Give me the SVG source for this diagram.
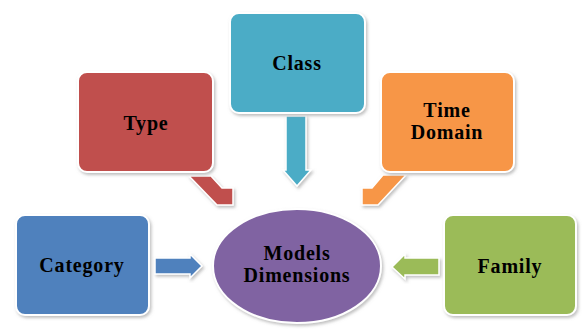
<svg xmlns="http://www.w3.org/2000/svg" width="587" height="333" viewBox="0 0 587 333">
  <defs>
    <filter id="soft" x="-10%" y="-10%" width="130%" height="130%">
      <feDropShadow dx="1.5" dy="2" stdDeviation="1.5" flood-color="#8c8c8c" flood-opacity="0.55"/>
    </filter>
  </defs>
  <style>
    .box { stroke: #ffffff; stroke-width: 2; filter: url(#soft); }
    .arrow { stroke: #ffffff; stroke-width: 1.5; stroke-linejoin: miter; filter: url(#soft); }
    .label { font-family: "Liberation Serif", "Times New Roman", serif; font-weight: bold; font-size: 20px; fill: #000000; text-anchor: middle; letter-spacing: 0.8px; }
  </style>
  <rect width="587" height="333" fill="#ffffff"/>

  <!-- connectors: block arrows pointing into the hub -->
  <g id="connectors">
    <polygon class="arrow" fill="#C0504D" points="189,176 211,176 222,188 233,188 233,205 217,205"/>
    <polygon class="arrow" fill="#4BACC6" points="286,116 306,116 306,170 311,170 297,186 283,170 286,170"/>
    <polygon class="arrow" fill="#F79646" points="383,175 406,175 378,205 362,205 362,188 372,188"/>
    <polygon class="arrow" fill="#4F81BD" points="155,258 190,258 190,254 202,266 190,278 190,274 155,274"/>
    <polygon class="arrow" fill="#9BBB59" points="439,258 405,258 405,254 392,267 405,279 405,275 439,275"/>
  </g>

  <g id="node-type">
    <rect class="box" x="78" y="72" width="135" height="100" rx="9" fill="#C0504D"/>
    <text class="label" x="146" y="130">Type</text>
  </g>

  <g id="node-class">
    <rect class="box" x="230" y="13" width="135" height="100" rx="9" fill="#4BACC6"/>
    <text class="label" x="297" y="70">Class</text>
  </g>

  <g id="node-time-domain">
    <rect class="box" x="381" y="72" width="133" height="100" rx="9" fill="#F79646"/>
    <text class="label" x="447" y="117">Time</text>
    <text class="label" x="447" y="139">Domain</text>
  </g>

  <g id="node-category">
    <rect class="box" x="16" y="215" width="133" height="100" rx="9" fill="#4F81BD"/>
    <text class="label" x="82" y="272">Category</text>
  </g>

  <g id="node-family">
    <rect class="box" x="444" y="215" width="132" height="100" rx="9" fill="#9BBB59"/>
    <text class="label" x="510" y="273">Family</text>
  </g>

  <g id="node-models-dimensions">
    <ellipse class="box" cx="297" cy="266" rx="84" ry="57" fill="#8064A2"/>
    <text class="label" x="297" y="260">Models</text>
    <text class="label" x="297" y="282">Dimensions</text>
  </g>
</svg>
